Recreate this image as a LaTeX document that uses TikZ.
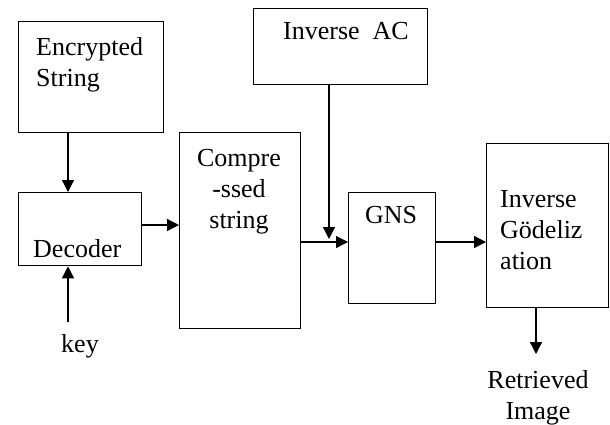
\documentclass[tikz,border=0pt]{standalone}
\usepackage{fontspec}
\setmainfont{Liberation Serif}
\usetikzlibrary{arrows.meta,calc}

\tikzset{
	blk/.style={rectangle, draw=black, line width=1.3pt, anchor=north west, inner sep=0pt},
	txt/.style={inner sep=0pt, align=left, text=black, font=\fontsize{26}{31}\selectfont},
	flow/.style={line width=1.3pt, -{Triangle[length=12pt,width=12pt]}}
}

\begin{document}
\begin{tikzpicture}[x=1pt,y=-1pt]
	
	\useasboundingbox[fill=white] (0,0) rectangle (610,424);
	
	% blocks
	\node[blk, minimum width=145pt, minimum height=111pt] (enc) at (18,21) {};
	\node[blk, minimum width=123pt, minimum height=73pt] (dec) at (18,192) {};
	\node[blk, minimum width=121pt, minimum height=196pt] (comp) at (179,132) {};
	\node[blk, minimum width=174pt, minimum height=76pt] (iac) at (253,8) {};
	\node[blk, minimum width=87pt, minimum height=111pt] (gns) at (348,192) {};
	\node[blk, minimum width=122pt, minimum height=164pt] (inv) at (486,143) {};
	
	% texts
	\node[txt, anchor=north west] (enctxt) at (36,37) {Encrypted\\String};
	\node[txt, anchor=north west] (dectxt) at (33,239) {Decoder};
	\node[txt, anchor=north, align=center] (comptxt) at (239,149) {Compre\\-ssed\\string};
	\node[txt, anchor=north west] (iactxt) at (283,22) {Inverse\ \ AC};
	\node[txt, anchor=north west] (gnstxt) at (365,206) {GNS};
	\node[txt, anchor=north west] (invtxt) at (500,190) {Inverse\\Gödeliz\\ation};
	\node[txt, anchor=north] (key) at (80,334) {key};
	\node[txt, anchor=north, align=center] (img) at (538,370) {Retrieved\\Image};
	
	% connectors
	\coordinate (keyin) at (68,322);
	\coordinate (mid) at (329,242);
	\coordinate (out) at (536,354);
	
	\draw[flow] ($(enc.south west)+(50,0)$) -- ($(dec.north west)+(50,0)$);
	\draw[flow] (keyin) -- (keyin |- dec.south);
	\draw[flow] (dec.east |- 0,225) -- (comp.west |- 0,225);
	\draw[flow] (iac.south -| mid) -- ($(mid)+(0,-3)$);
	\draw[flow] (comp.east |- mid) -- (gns.west |- mid);
	\draw[flow] (gns.east |- mid) -- (inv.west |- mid);
	\draw[flow] (out |- inv.south) -- (out);
	
\end{tikzpicture}
\end{document}
